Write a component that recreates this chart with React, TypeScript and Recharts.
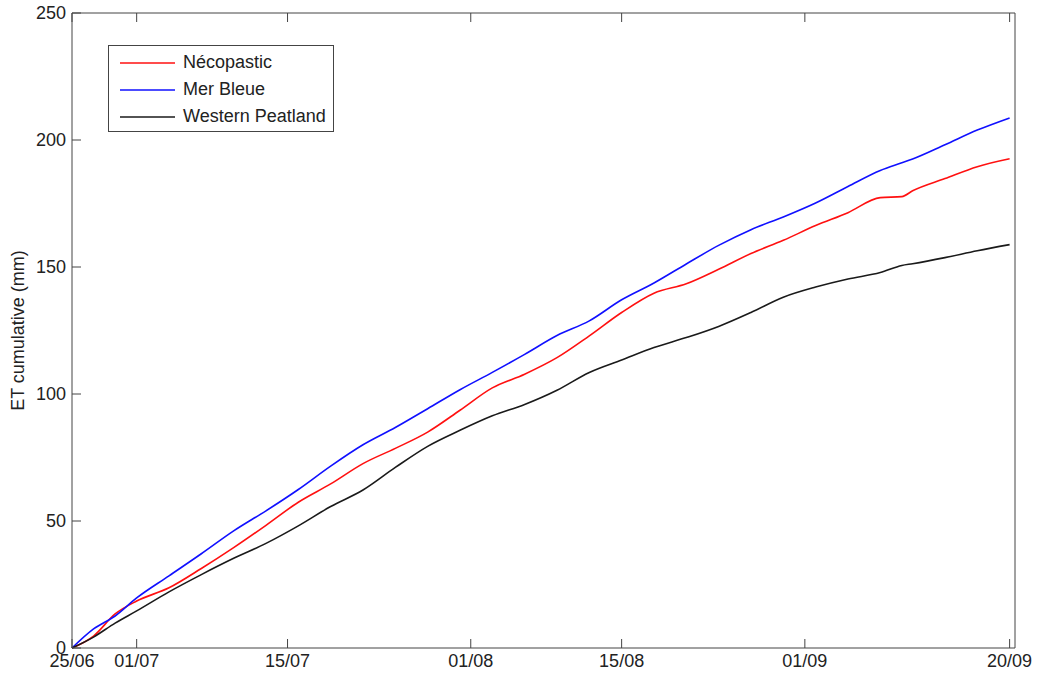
import React from "react";
import { LineChart, Line, XAxis, YAxis } from "recharts";

// days since 25/06
const days = [0, 2, 4, 6, 9, 12, 15, 18, 21, 24, 27, 30, 33, 36, 39, 42, 45, 48, 51, 54, 57, 60, 63, 66, 69, 72, 75, 77, 78, 81, 84, 87];

const necopastic = [0, 4.7, 13.4, 18.5, 23.7, 31.3, 39.5, 48.3, 57.4, 64.6, 72.6, 78.6, 85.0, 93.6, 102.4, 107.8, 114.3, 122.9, 132.1, 139.7, 143.4, 149.1, 155.3, 160.5, 166.3, 171.4, 177.3, 177.7, 180.0, 184.8, 189.5, 192.6];
const merBleue = [0, 7.5, 12.6, 19.7, 28.4, 37.1, 46.1, 54.0, 62.4, 71.6, 80.0, 86.8, 94.2, 101.7, 108.5, 115.6, 123.0, 128.8, 137.1, 143.7, 151.2, 158.5, 164.7, 169.7, 175.2, 181.7, 188.0, 191.0, 192.5, 198.1, 203.9, 208.7];
const westernPeatland = [0, 4.3, 9.8, 14.6, 22.1, 28.9, 35.3, 41.2, 48.1, 55.7, 62.2, 71.1, 79.4, 85.7, 91.4, 95.9, 101.5, 108.5, 113.4, 118.3, 122.2, 126.6, 132.1, 138.1, 142.1, 145.3, 147.8, 150.6, 151.3, 153.7, 156.4, 158.8];

const xTicks = [0, 6, 20, 37, 51, 68, 87];
const xTickLabels = ["25/06", "01/07", "15/07", "01/08", "15/08", "01/09", "20/09"];
const yTicks = [0, 50, 100, 150, 200, 250];

const data = days.map((d, i) => ({
  day: d,
  necopastic: necopastic[i],
  merBleue: merBleue[i],
  western: westernPeatland[i],
}));

const FONT = "'Liberation Sans', Arial, sans-serif";
const AXIS = "#444";
const TICK_LEN = 9;

const series = [
  { key: "necopastic", name: "Nécopastic", color: "#ff1010" },
  { key: "merBleue", name: "Mer Bleue", color: "#1010ff" },
  { key: "western", name: "Western Peatland", color: "#1a1a1a" },
];

function BottomTick(props: any) {
  const { x, y, payload } = props;
  const idx = xTicks.indexOf(payload.value);
  return (
    <g>
      <line x1={x} y1={y} x2={x} y2={y - TICK_LEN} stroke={AXIS} />
      <text x={x} y={y + 19} textAnchor="middle" fontSize={18} fill="#222" fontFamily={FONT}>
        {xTickLabels[idx]}
      </text>
    </g>
  );
}

function TopTick(props: any) {
  const { x, y } = props;
  return <line x1={x} y1={y} x2={x} y2={y + TICK_LEN} stroke={AXIS} />;
}

function LeftTick(props: any) {
  const { x, y, payload } = props;
  return (
    <g>
      <line x1={x} y1={y} x2={x + TICK_LEN} y2={y} stroke={AXIS} />
      <text x={x - 6} y={y + 6} textAnchor="end" fontSize={18} fill="#222" fontFamily={FONT}>
        {payload.value}
      </text>
    </g>
  );
}

function RightTick(props: any) {
  const { x, y } = props;
  return <line x1={x} y1={y} x2={x - TICK_LEN} y2={y} stroke={AXIS} />;
}

function YLabel(props: any) {
  const vb = props.viewBox;
  const cx = 18;
  const cy = vb.y + vb.height / 2;
  return (
    <text
      x={cx}
      y={cy}
      transform={`rotate(-90, ${cx}, ${cy})`}
      textAnchor="middle"
      dominantBaseline="central"
      fontSize={18}
      fill="#222"
      fontFamily={FONT}
    >
      ET cumulative (mm)
    </text>
  );
}

function LegendBox() {
  return (
    <div
      style={{
        position: "absolute",
        left: 108,
        top: 45,
        width: 226,
        height: 87,
        border: "1px solid #444",
        background: "#fff",
        fontFamily: FONT,
        fontSize: 18,
        color: "#222",
        boxSizing: "border-box",
        paddingTop: 3,
      }}
    >
      {series.map((s) => (
        <div key={s.key} style={{ display: "flex", alignItems: "center", height: 27 }}>
          <svg width={66} height={6} style={{ display: "block" }}>
            <line x1={11} y1={3} x2={66} y2={3} stroke={s.color} strokeWidth={1.6} />
          </svg>
          <span style={{ marginLeft: 8 }}>{s.name}</span>
        </div>
      ))}
    </div>
  );
}

export default function App() {
  return (
    <div style={{ position: "absolute", left: 0, top: 0, width: 1038, height: 675 }}>
      <LineChart width={1038} height={675} data={data} margin={{ top: 12, right: 22, left: 0, bottom: 0 }}>
        <XAxis
          dataKey="day"
          type="number"
          domain={[0, 87.5]}
          ticks={xTicks}
          interval={0}
          height={27}
          tickSize={0}
          tickMargin={0}
          tickLine={false}
          axisLine={{ stroke: AXIS }}
          tick={<BottomTick />}
        />
        <XAxis
          xAxisId="top"
          orientation="top"
          dataKey="day"
          type="number"
          domain={[0, 87.5]}
          ticks={xTicks}
          interval={0}
          height={1}
          tickSize={0}
          tickMargin={0}
          tickLine={false}
          axisLine={{ stroke: AXIS }}
          tick={<TopTick />}
        />
        <YAxis
          type="number"
          domain={[0, 250]}
          ticks={yTicks}
          interval={0}
          width={72}
          tickSize={0}
          tickMargin={0}
          tickLine={false}
          axisLine={{ stroke: AXIS }}
          tick={<LeftTick />}
          label={<YLabel />}
        />
        <YAxis
          yAxisId="right"
          orientation="right"
          type="number"
          domain={[0, 250]}
          ticks={yTicks}
          interval={0}
          width={1}
          tickSize={0}
          tickMargin={0}
          tickLine={false}
          axisLine={{ stroke: AXIS }}
          tick={<RightTick />}
        />
        {series.map((s) => (
          <Line
            key={s.key}
            type="monotone"
            dataKey={s.key}
            name={s.name}
            stroke={s.color}
            strokeWidth={1.6}
            dot={false}
            isAnimationActive={false}
          />
        ))}
      </LineChart>
      <LegendBox />
    </div>
  );
}
